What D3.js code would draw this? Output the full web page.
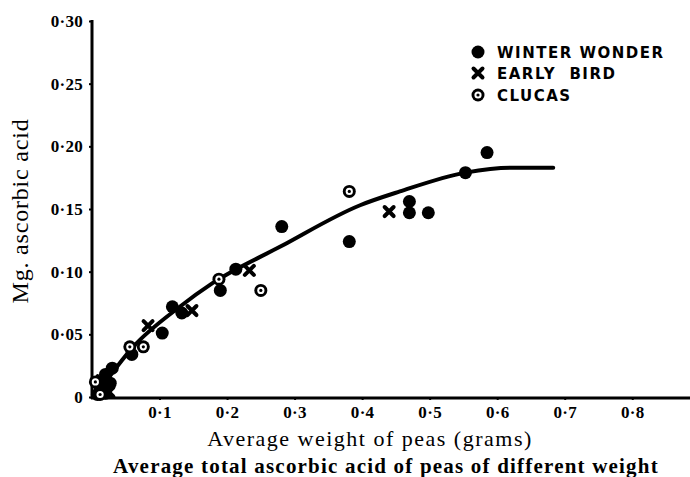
<!DOCTYPE html>
<html>
<head>
<meta charset="utf-8">
<script src="https://cdn.jsdelivr.net/npm/d3@7"></script>
<style>
  body { margin: 0; background: #fff; }
  svg { display: block; }
</style>
</head>
<body>
<div id="chart"></div>
<script>
// ---- data ----
const xTicks = [0.1, 0.2, 0.3, 0.4, 0.5, 0.6, 0.7, 0.8];
const xTickLabels = ['0·1', '0·2', '0·3', '0·4', '0·5', '0·6', '0·7', '0·8'];
const yTicks = [0, 0.05, 0.10, 0.15, 0.20, 0.25, 0.30];
const yTickLabels = ['0', '0·05', '0·10', '0·15', '0·20', '0·25', '0·30'];

const winterWonder = [
  [0.008, 0.002], [0.012, 0.008], [0.020, 0.018], [0.027, 0.011], [0.030, 0.023], [0.020, 0.003],
  [0.059, 0.034], [0.104, 0.051], [0.119, 0.072], [0.133, 0.067], [0.190, 0.085], [0.213, 0.102],
  [0.281, 0.136], [0.381, 0.124], [0.470, 0.156], [0.470, 0.147], [0.498, 0.147], [0.553, 0.179],
  [0.585, 0.195]
];
const earlyBird = [
  [0.015, 0.013], [0.025, 0.004], [0.083, 0.057], [0.148, 0.069], [0.233, 0.101], [0.440, 0.148]
];
const clucas = [
  [0.005, 0.012], [0.012, 0.002], [0.056, 0.040], [0.076, 0.040], [0.188, 0.094], [0.250, 0.085],
  [0.381, 0.164]
];
// hand-drawn trend curve
const curve = [
  [0.004, 0.0], [0.061, 0.040], [0.130, 0.072], [0.179, 0.091], [0.279, 0.120], [0.397, 0.153],
  [0.456, 0.164], [0.553, 0.179], [0.619, 0.183], [0.683, 0.183]
];
const legendLabels = ['WINTER WONDER', 'EARLY  BIRD', 'CLUCAS'];

const width = 690, height = 477;

const svg = d3.select('#chart').append('svg')
  .attr('width', width)
  .attr('height', height);

const x = d3.scaleLinear().domain([0, 0.887]).range([92, 691]);
const y = d3.scaleLinear().domain([0, 0.3]).range([397, 21]);

const serif = '"Liberation Serif", "DejaVu Serif", serif';

// Y axis
const yAxis = svg.append('g')
  .attr('transform', `translate(${x(0)},0)`)
  .call(d3.axisLeft(y).tickValues(yTicks).tickSize(3).tickPadding(6)
    .tickFormat((d, i) => yTickLabels[i]));
yAxis.select('.domain').remove();
yAxis.selectAll('.tick line').attr('stroke-width', 2);
yAxis.selectAll('.tick text')
  .style('font-family', serif).style('font-weight', 'bold')
  .style('font-size', '17px').style('letter-spacing', '0.3px');
svg.append('line')
  .attr('x1', x(0)).attr('x2', x(0))
  .attr('y1', y(0.3) - 1).attr('y2', y(0) + 2)
  .attr('stroke', '#000').attr('stroke-width', 3);

// X axis
const xAxis = svg.append('g')
  .attr('transform', `translate(0,${y(0)})`)
  .call(d3.axisBottom(x).tickValues(xTicks).tickSize(3).tickPadding(6)
    .tickFormat((d, i) => xTickLabels[i]));
xAxis.select('.domain').remove();
xAxis.selectAll('.tick line').attr('stroke-width', 2);
xAxis.selectAll('.tick text')
  .style('font-family', serif).style('font-weight', 'bold')
  .style('font-size', '17px').style('letter-spacing', '0.3px');
svg.append('line')
  .attr('x1', x(0) - 1).attr('x2', width)
  .attr('y1', y(0) + 1).attr('y2', y(0) + 1)
  .attr('stroke', '#000').attr('stroke-width', 3);

// trend curve
svg.append('path')
  .datum(curve)
  .attr('fill', 'none')
  .attr('stroke', '#000')
  .attr('stroke-width', 4)
  .attr('stroke-linecap', 'round')
  .attr('d', d3.line().x(d => x(d[0])).y(d => y(d[1])).curve(d3.curveMonotoneX));

// markers
function drawDot(g, cx, cy) {
  g.append('circle').attr('cx', cx).attr('cy', cy).attr('r', 6.5).attr('fill', '#000');
}
function drawCross(g, cx, cy) {
  const s = 4.5;
  g.append('path')
    .attr('d', `M${cx - s},${cy - s}L${cx + s},${cy + s}M${cx - s},${cy + s}L${cx + s},${cy - s}`)
    .attr('stroke', '#000').attr('stroke-width', 4).attr('stroke-linecap', 'round');
}
function drawRing(g, cx, cy) {
  g.append('circle').attr('cx', cx).attr('cy', cy).attr('r', 6.5).attr('fill', '#000');
  g.append('circle').attr('cx', cx).attr('cy', cy).attr('r', 3.6).attr('fill', '#fff');
  g.append('circle').attr('cx', cx).attr('cy', cy).attr('r', 1.6).attr('fill', '#000');
}

const pts = svg.append('g');
winterWonder.forEach(d => drawDot(pts, x(d[0]), y(d[1])));
earlyBird.forEach(d => drawCross(pts, x(d[0]), y(d[1])));
clucas.forEach(d => drawRing(pts, x(d[0]), y(d[1])));

// legend
const legend = svg.append('g');
const markerFns = [drawDot, drawCross, drawRing];
const legendY = [52, 73, 95];
legendLabels.forEach((lab, i) => {
  markerFns[i](legend, 478, legendY[i]);
  legend.append('text')
    .attr('x', 497).attr('y', legendY[i] + 6)
    .style('font-family', '"DejaVu Sans", sans-serif')
    .style('font-weight', 'bold')
    .style('font-size', '15px')
    .style('letter-spacing', '1.5px')
    .style('white-space', 'pre')
    .text(lab);
});

// axis titles
svg.append('text')
  .attr('transform', 'translate(28,211) rotate(-90)')
  .attr('text-anchor', 'middle')
  .style('font-family', serif)
  .style('font-size', '24px')
  .style('letter-spacing', '0.8px')
  .text('Mg. ascorbic acid');

svg.append('text')
  .attr('x', 370).attr('y', 446)
  .attr('text-anchor', 'middle')
  .style('font-family', serif)
  .style('font-size', '22px')
  .style('letter-spacing', '1.5px')
  .text('Average weight of peas (grams)');

svg.append('text')
  .attr('x', 386).attr('y', 473)
  .attr('text-anchor', 'middle')
  .style('font-family', serif)
  .style('font-weight', 'bold')
  .style('font-size', '21px')
  .style('letter-spacing', '1.2px')
  .text('Average total ascorbic acid of peas of different weight');
</script>
</body>
</html>
